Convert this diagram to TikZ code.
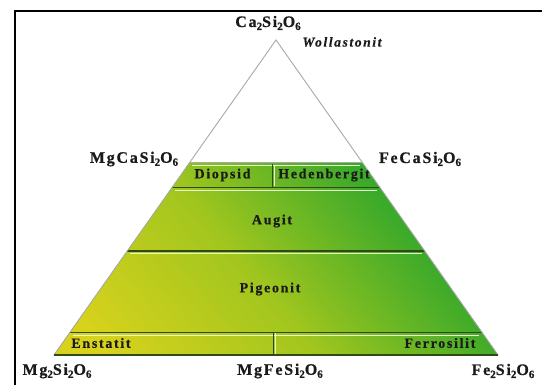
\documentclass[tikz,border=0pt]{standalone}
\usepackage{fontspec}
\setmainfont{Liberation Serif}
\newfontfamily\formfont[LetterSpace=11,FakeBold=0.6]{Liberation Serif}
\newfontfamily\bandfont[LetterSpace=12,FakeBold=0.5]{Liberation Serif}
\newfontfamily\minfont[LetterSpace=12,FakeBold=0.4]{Liberation Serif}
\newcommand\subnum[1]{\raisebox{-3pt}{\fontsize{11}{11}\selectfont #1}}
\definecolor{yel}{RGB}{216,210,28}
\definecolor{midc}{RGB}{162,198,30}
\definecolor{grn}{RGB}{52,168,43}
\definecolor{darkline}{HTML}{2F4A12}
\definecolor{lightline}{HTML}{E6F7CF}
\definecolor{edgegray}{HTML}{A8A8A8}
\definecolor{labtext}{HTML}{1A1A1A}
\begin{document}
\begin{tikzpicture}[x=1pt,y=1pt,
  formula/.style={font=\formfont\bfseries\fontsize{16}{18}\selectfont, text=labtext, inner sep=0pt},
  bandlabel/.style={font=\bandfont\bfseries\fontsize{14}{16}\selectfont, text=labtext, inner sep=0pt},
  mineral/.style={font=\minfont\bfseries\itshape\fontsize{13.5}{15}\selectfont, text=labtext, inner sep=0pt},
  darksep/.style={draw=darkline, line width=1.3pt},
  lightsep/.style={draw=lightline, line width=0.9pt},
  frameline/.style={draw=black, line width=1.2pt}]
\useasboundingbox (0,0) rectangle (542,385);
\fill[white] (0,0) rectangle (542,385);
% frame
\coordinate (f1) at (15,0);
\coordinate (f2) at (15,374);
\coordinate (f3) at (542,374);
\draw[frameline] (f1) -- (f2) -- (f3);
% triangle geometry
\coordinate (apex) at (276,345);
\coordinate (BL) at (54,30);
\coordinate (BR) at (498,30);
\coordinate (T1L) at (189.7,222.5);
\coordinate (T1R) at (362.3,222.5);
% green trapezoid with diagonal gradient (strips along 40 degrees)
\begin{scope}
  \clip (BL) -- (BR) -- (T1R) -- (T1L) -- cycle;
  \fill[grn] (0,0) rectangle (542,385);
  \fill[yel, rotate=40] (-100,-500) rectangle (100.5,500);
  \foreach \i in {0,...,39} {
    \pgfmathsetmacro\ua{100+4*\i}
    \pgfmathsetmacro\ub{\ua+4.6}
    \pgfmathsetmacro\pp{100-2.5*\i}
    \fill[yel!\pp!midc, rotate=40] (\ua,-500) rectangle (\ub,500);
  }
  \foreach \i in {0,...,39} {
    \pgfmathsetmacro\ua{260+4*\i}
    \pgfmathsetmacro\ub{\ua+4.6}
    \pgfmathsetmacro\pp{100-2.5*\i}
    \fill[midc!\pp!grn, rotate=40] (\ua,-500) rectangle (\ub,500);
  }
\end{scope}
% band separators
\coordinate (L1a) at (192,220);   \coordinate (L1b) at (360,220);
\coordinate (D2a) at (172.0,197.5); \coordinate (D2b) at (380.0,197.5);
\coordinate (L2a) at (175,195);   \coordinate (L2b) at (377,195);
\coordinate (D3a) at (127.3,134); \coordinate (D3b) at (424.7,134);
\coordinate (L3a) at (130,131.5); \coordinate (L3b) at (422,131.5);
\coordinate (D4a) at (69.8,52.5); \coordinate (D4b) at (482.2,52.5);
\coordinate (L4a) at (73,50);     \coordinate (L4b) at (479,50);
\draw[lightsep] (L1a) -- (L1b);
\draw[darksep] (D2a) -- (D2b);
\draw[lightsep] (L2a) -- (L2b);
\draw[darksep] (D3a) -- (D3b);
\draw[lightsep] (L3a) -- (L3b);
\draw[darksep] (D4a) -- (D4b);
\draw[lightsep] (L4a) -- (L4b);
% vertical dividers
\coordinate (V1a) at (272.3,220.5); \coordinate (V1b) at (272.3,197.5);
\coordinate (V1c) at (274.5,219.5); \coordinate (V1d) at (274.5,198.5);
\coordinate (V2a) at (273.3,52.5);  \coordinate (V2b) at (273.3,30);
\coordinate (V2c) at (275.5,51.5);  \coordinate (V2d) at (275.5,31);
\draw[darksep] (V1a) -- (V1b);
\draw[lightsep] (V1c) -- (V1d);
\draw[darksep] (V2a) -- (V2b);
\draw[lightsep] (V2c) -- (V2d);
% outlines
\draw[edgegray, line width=0.8pt] (T1L) -- (T1R);
\draw[edgegray, line width=0.9pt, line join=miter] (BL) -- (apex) -- (BR);
\draw[darkline, line width=1.2pt] (BL) -- (BR);
% labels
\node[formula] (ca) at (268,362) {Ca\subnum{2}Si\subnum{2}O\subnum{6}};
\node[mineral] (wol) at (342,343) {Wollastonit};
\node[formula] (mgca) at (134,226) {MgCaSi\subnum{2}O\subnum{6}};
\node[formula] (feca) at (420,226) {FeCaSi\subnum{2}O\subnum{6}};
\node[bandlabel] (dio) at (222.5,210) {Diopsid};
\node[bandlabel] (hed) at (324,210) {Hedenbergit};
\node[bandlabel] (aug) at (272,164) {Augit};
\node[bandlabel] (pig) at (270,96) {Pigeonit};
\node[bandlabel] (ens) at (101,42) {Enstatit};
\node[bandlabel] (fer) at (440,42) {Ferrosilit};
\node[formula] (mg2) at (57,14) {Mg\subnum{2}Si\subnum{2}O\subnum{6}};
\node[formula] (mgfe) at (280,14) {MgFeSi\subnum{2}O\subnum{6}};
\node[formula] (fe2) at (503,14) {Fe\subnum{2}Si\subnum{2}O\subnum{6}};
\end{tikzpicture}
\end{document}
